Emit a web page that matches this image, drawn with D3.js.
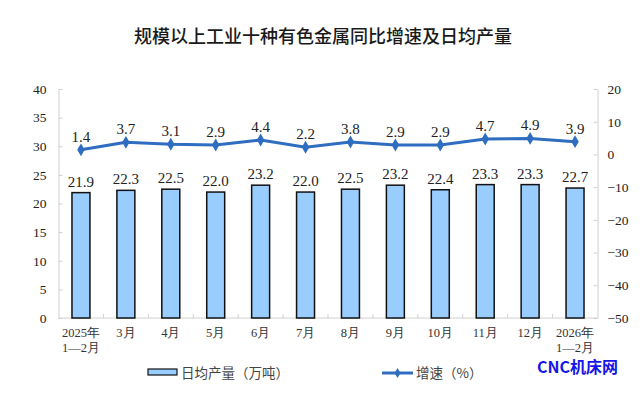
<!DOCTYPE html>
<html><head><meta charset="utf-8">
<script src="https://cdn.jsdelivr.net/npm/d3@7"></script>
<style>body{margin:0;background:#fff}</style>
</head><body>
<svg id="c" width="642" height="395"></svg>
<script>
const categories = ["2025年\n1—2月","3月","4月","5月","6月","7月","8月","9月","10月","11月","12月","2026年\n1—2月"];
const dailyOutput = [21.9,22.3,22.5,22.0,23.2,22.0,22.5,23.2,22.4,23.3,23.3,22.7];
const growth = [1.4,3.7,3.1,2.9,4.4,2.2,3.8,2.9,2.9,4.7,4.9,3.9];
const leftTicks = [0,5,10,15,20,25,30,35,40];
const rightTicks = [-50,-40,-30,-20,-10,0,10,20];
const title = "规模以上工业十种有色金属同比增速及日均产量";
const legendBar = "日均产量（万吨）";
const legendLine = "增速（%）";
const watermark = "CNC机床网";

const svg = d3.select("#c");
const L = 58.5, R = 597.5, T = 89, B = 318;
const serif = "'Liberation Serif','Times New Roman',serif";
const cjk = "'Noto Sans CJK SC',sans-serif";
const x = d3.scaleBand().domain(categories).range([L, R]).paddingInner(0.6).paddingOuter(0.3);
const xb = d3.scaleBand().domain(categories).range([L, R]);
const yL = d3.scaleLinear().domain([0,40]).range([B, T]);
const yR = d3.scaleLinear().domain([-50,20]).range([B, T]);

svg.append("text").attr("x", 323).attr("y", 43).attr("text-anchor","middle")
  .attr("font-family", cjk).attr("font-size", 18).attr("font-weight", 500).attr("fill","#1a1a1a").text(title);

// axes
const gl = svg.append("g").attr("transform", `translate(${L},0)`)
  .call(d3.axisLeft(yL).tickValues(leftTicks).tickSizeInner(-4).tickSizeOuter(0).tickPadding(12));
const gr = svg.append("g").attr("transform", `translate(${R},0)`)
  .call(d3.axisRight(yR).tickValues(rightTicks).tickSizeInner(-4).tickSizeOuter(0).tickPadding(10));
[gl, gr].forEach(g => {
  g.select(".domain").attr("stroke","#d0d0d0");
  g.selectAll(".tick line").attr("stroke","#d0d0d0");
  g.selectAll(".tick text").attr("font-family", serif).attr("font-size", 13.5).attr("fill","#222");
});
svg.append("line").attr("x1",L).attr("x2",R).attr("y1",B).attr("y2",B).attr("stroke","#d0d0d0");
svg.append("g").selectAll("line").data(categories.slice(1)).join("line")
  .attr("x1", d => xb(d)).attr("x2", d => xb(d)).attr("y1", B).attr("y2", B-4).attr("stroke","#d0d0d0");

// x labels
const xl = svg.append("g").selectAll("text").data(categories).join("text")
  .attr("x", d => xb(d) + xb.bandwidth()/2).attr("y", 337)
  .attr("text-anchor","middle").attr("font-family", serif).attr("font-size", 12.5).attr("fill","#333");
xl.each(function(d){
  const parts = d.split("\n");
  d3.select(this).selectAll("tspan").data(parts).join("tspan")
    .attr("x", xb(d) + xb.bandwidth()/2).attr("dy", (p,i) => i ? 15 : 0).text(p => p);
});

// bars
svg.append("g").selectAll("rect").data(dailyOutput).join("rect")
  .attr("x", (d,i) => x(categories[i])).attr("width", x.bandwidth())
  .attr("y", d => yL(d)).attr("height", d => B - yL(d))
  .attr("fill","#99CCFF").attr("stroke","#111").attr("stroke-width",1.5);
svg.append("g").selectAll("text").data(dailyOutput).join("text")
  .attr("x", (d,i) => xb(categories[i]) + xb.bandwidth()/2).attr("y", d => yL(d) - 6)
  .attr("text-anchor","middle").attr("font-family", serif).attr("font-size", 15).attr("fill","#222")
  .text(d => d.toFixed(1));

// line
const cx = i => xb(categories[i]) + xb.bandwidth()/2;
const lineColor = "#2E6DBF";
svg.append("path").datum(growth)
  .attr("d", d3.line().x((d,i)=>cx(i)).y(d=>yR(d)))
  .attr("fill","none").attr("stroke", lineColor).attr("stroke-width", 3);
const diamond = d3.symbol().type(d3.symbolDiamond).size(48);
svg.append("g").selectAll("path").data(growth).join("path")
  .attr("d", diamond).attr("transform", (d,i)=>`translate(${cx(i)},${yR(d)})`).attr("fill", lineColor);
svg.append("g").selectAll("text").data(growth).join("text")
  .attr("x", (d,i) => cx(i)).attr("y", d => yR(d) - 8)
  .attr("text-anchor","middle").attr("font-family", serif).attr("font-size", 15).attr("fill","#222")
  .text(d => d.toFixed(1));

// legend
svg.append("rect").attr("x",148).attr("y",369).attr("width",29).attr("height",6)
  .attr("fill","#99CCFF").attr("stroke","#111").attr("stroke-width",1.2);
svg.append("text").attr("x",181).attr("y",378).attr("font-family", cjk).attr("font-size",13.5).attr("fill","#444").text(legendBar);
svg.append("line").attr("x1",382).attr("x2",413).attr("y1",373).attr("y2",373).attr("stroke",lineColor).attr("stroke-width",3);
svg.append("path").attr("d", d3.symbol().type(d3.symbolDiamond).size(30)).attr("transform","translate(397.5,373)").attr("fill",lineColor);
svg.append("text").attr("x",416).attr("y",378).attr("font-family", cjk).attr("font-size",13.5).attr("fill","#444").text(legendLine);
svg.append("text").attr("x",537).attr("y",373).attr("font-family", cjk).attr("font-size",16).attr("font-weight",700).attr("fill","#1515E8").text(watermark);
</script>
</body></html>
